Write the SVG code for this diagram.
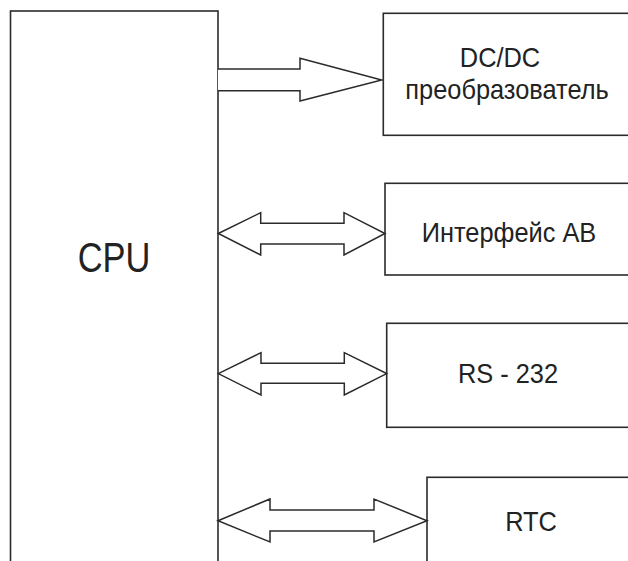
<svg xmlns="http://www.w3.org/2000/svg" width="628" height="561" viewBox="0 0 628 561">
<style>
.box{fill:#fff;stroke:#2b2b2b;stroke-width:1.6}
.arr{fill:#fff;stroke:#2b2b2b;stroke-width:1.5;stroke-linejoin:miter}
.lbl{font-family:"Liberation Sans",Arial,sans-serif;font-size:27px;fill:#222;text-anchor:middle}
.big{font-size:42px}
</style>
<rect width="628" height="561" fill="#fff"/>
<g id="cpu">
<rect class="box" x="10.5" y="11" width="207.5" height="570"/>
<text class="lbl big" transform="translate(114,272) scale(0.82,1)">CPU</text>
</g>
<g id="dcdc">
<rect class="box" x="383.3" y="13.3" width="260" height="122"/>
<text class="lbl" transform="translate(500,67) scale(0.94,1)">DC/DC</text>
<text class="lbl" transform="translate(507,99) scale(0.94,1)">преобразователь</text>
</g>
<g id="interface">
<rect class="box" x="385" y="183.3" width="260" height="91.7"/>
<text class="lbl" transform="translate(509,242) scale(0.94,1)">Интерфейс АВ</text>
</g>
<g id="rs232">
<rect class="box" x="386.7" y="323.3" width="260" height="104"/>
<text class="lbl" transform="translate(508,383) scale(0.94,1)">RS - 232</text>
</g>
<g id="rtc">
<rect class="box" x="427" y="477.3" width="220" height="100"/>
<text class="lbl" transform="translate(531,531) scale(0.94,1)">RTC</text>
</g>
<g id="connectors">
<path class="arr" d="M218,69 H300 V58.3 L381.7,80 L300,101 V90.7 H218"/>
<path class="arr" d="M218.3,233.5 L260.7,212.7 V223.3 H344 V212.7 L385,233.5 L344,255 V244 H260.7 V255 Z"/>
<path class="arr" d="M218.3,373.6 L261,352.7 V363.3 H344.3 V352.7 L386.7,373.6 L344.3,395 V383.3 H261 V395 Z"/>
<path class="arr" d="M218,520.7 L270,499 V510 H374 V499 L427,520.7 L374,542 V531 H270 V542 Z"/>
</g>
</svg>
